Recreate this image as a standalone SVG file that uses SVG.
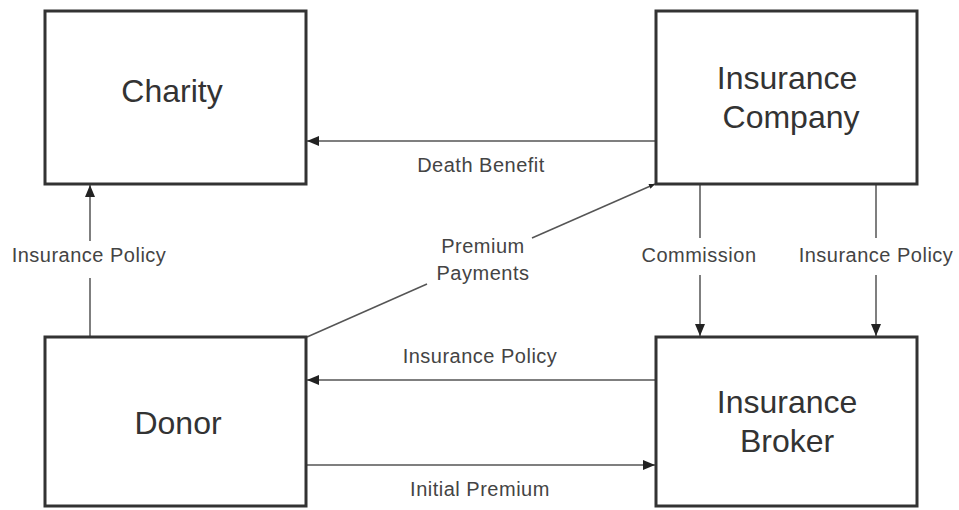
<svg xmlns="http://www.w3.org/2000/svg" width="959" height="510" viewBox="0 0 959 510">
<defs>
<style>
.box{fill:#fff;stroke:#333;stroke-width:3}
.big{font-family:"Liberation Sans",Arial,sans-serif;font-size:32px;fill:#333;text-anchor:middle}
.lbl{font-family:"Liberation Sans",Arial,sans-serif;font-size:20px;fill:#444;text-anchor:middle;letter-spacing:0.5px}
.ln{stroke:#555;stroke-width:1.5;fill:none}
</style>
<marker id="ah" viewBox="0 0 12 10" refX="12" refY="5" markerWidth="12" markerHeight="10" markerUnits="userSpaceOnUse" orient="auto">
<path d="M0,0 L12,5 L0,10 Z" fill="#222"/>
</marker>
<marker id="ahs" viewBox="0 0 12 10" refX="12" refY="5" markerWidth="7" markerHeight="5" markerUnits="userSpaceOnUse" orient="auto">
<path d="M0,0 L12,5 L0,10 Z" fill="#222"/>
</marker>
</defs>
<g id="connectors">
<line class="ln" x1="655" y1="141" x2="307" y2="141" marker-end="url(#ah)"/>
<line class="ln" x1="90" y1="337" x2="90" y2="278"/>
<line class="ln" x1="90" y1="241" x2="90" y2="185" marker-end="url(#ah)"/>
<line class="ln" x1="307" y1="337" x2="427" y2="284"/>
<line class="ln" x1="532" y1="238" x2="655" y2="184" marker-end="url(#ahs)"/>
<line class="ln" x1="700" y1="185" x2="700" y2="238"/>
<line class="ln" x1="700" y1="275" x2="700" y2="336" marker-end="url(#ah)"/>
<line class="ln" x1="876" y1="185" x2="876" y2="238"/>
<line class="ln" x1="876" y1="275" x2="876" y2="336" marker-end="url(#ah)"/>
<line class="ln" x1="655" y1="380" x2="307" y2="380" marker-end="url(#ah)"/>
<line class="ln" x1="307" y1="465" x2="655" y2="465" marker-end="url(#ah)"/>
<text class="lbl" x="481" y="172">Death Benefit</text>
<text class="lbl" x="89" y="262">Insurance Policy</text>
<text class="lbl" x="483" y="253">Premium</text>
<text class="lbl" x="483" y="280">Payments</text>
<text class="lbl" x="699" y="262">Commission</text>
<text class="lbl" x="876" y="262">Insurance Policy</text>
<text class="lbl" x="480" y="363">Insurance Policy</text>
<text class="lbl" x="480" y="496">Initial Premium</text>
</g>
<g id="charity">
<rect class="box" x="45" y="11" width="261" height="173"/>
<text class="big" x="172" y="102">Charity</text>
</g>
<g id="insurance-company">
<rect class="box" x="656" y="11" width="261" height="173"/>
<text class="big" x="787" y="89">Insurance</text>
<text class="big" x="791" y="128">Company</text>
</g>
<g id="donor">
<rect class="box" x="45" y="337" width="261" height="169"/>
<text class="big" x="178" y="434">Donor</text>
</g>
<g id="insurance-broker">
<rect class="box" x="656" y="337" width="261" height="169"/>
<text class="big" x="787" y="413">Insurance</text>
<text class="big" x="787" y="452">Broker</text>
</g>
</svg>
